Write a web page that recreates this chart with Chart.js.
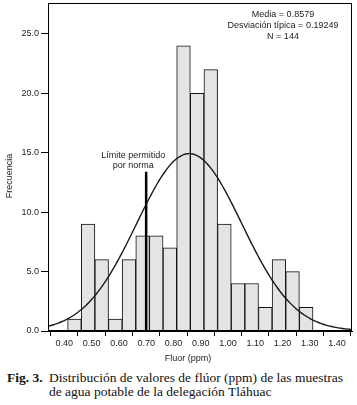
<!DOCTYPE html>
<html>
<head>
<meta charset="utf-8">
<script src="https://cdn.jsdelivr.net/npm/chart.js@4.4.1/dist/chart.umd.min.js"></script>
<style>
  html, body { margin: 0; padding: 0; background: #fff; }
  #wrap { position: relative; width: 357px; height: 405px; }
  #chartBox { position: absolute; left: 0; top: 0; width: 357px; height: 365px; }
  #caption { position: absolute; left: 7px; top: 371px; width: 350px;
    font-family: "Liberation Serif", "Times New Roman", serif; font-size: 13.5px; line-height: 13.5px; color: #111; }
  #caption .fig { position: absolute; left: 0; top: 0; font-weight: bold; }
  #caption .txt { margin-left: 42px; white-space: nowrap; }
</style>
</head>
<body>
<div id="wrap">
  <div id="chartBox"><canvas id="c"></canvas></div>
  <div id="caption"><span class="fig">Fig. 3.</span><div class="txt">Distribución de valores de flúor (ppm) de las muestras<br>de agua potable de la delegación Tláhuac</div></div>
</div>
<script>
// ---- data ----
const BIN_CENTERS = [0.437, 0.487, 0.537, 0.587, 0.637, 0.687, 0.737, 0.787, 0.837,
                     0.887, 0.937, 0.987, 1.037, 1.087, 1.137, 1.187, 1.237, 1.287];
const FREQUENCIES = [1, 9, 6, 1, 6, 8, 8, 7, 24, 20, 22, 9, 4, 4, 2, 6, 5, 2];
const X_TICKS = [0.40, 0.50, 0.60, 0.70, 0.80, 0.90, 1.00, 1.10, 1.20, 1.30, 1.40];
const Y_TICKS = [0, 5, 10, 15, 20, 25];
const MEAN = 0.8579;
const SD = 0.19249;
const N = 144;
const BIN_WIDTH = 0.05;
const LIMIT_VALUE = 0.70;
const LIMIT_TOP = 13.4;
const STATS_LINES = ["Media = 0.8579", "Desviación típica = 0.19249", "N = 144"];
const LIMIT_LABEL = ["Límite permitido", "por norma"];
const X_TITLE = "Fluor (ppm)";
const Y_TITLE = "Frecuencia";
const X_MIN = 0.34, X_MAX = 1.455, Y_MAX = 27.6;

// fitted normal curve (from the stated mean, sd and N)
const CURVE_X = [];
for (let i = 0; i <= 115; i++) CURVE_X.push(+(X_MIN + i * 0.01).toFixed(3));
const curvePts = CURVE_X.map(x => ({
  x, y: N * BIN_WIDTH / (SD * Math.sqrt(2 * Math.PI)) * Math.exp(-0.5 * Math.pow((x - MEAN) / SD, 2))
}));

Chart.defaults.font.family = '"Liberation Sans", Arial, sans-serif';
Chart.defaults.font.size = 9;
Chart.defaults.color = '#222';

const textPlugin = {
  id: 'texts',
  afterDraw(chart) {
    const ctx = chart.ctx, ca = chart.chartArea;
    const xs = chart.scales.x, ys = chart.scales.y;
    ctx.save();
    // frame
    ctx.strokeStyle = '#000'; ctx.lineWidth = 1;
    ctx.strokeRect(Math.round(ca.left) + 0.5, Math.round(ca.top) + 0.5,
                   Math.round(ca.right - ca.left) - 1, Math.round(ca.bottom - ca.top) - 1);
    ctx.fillStyle = '#222';
    ctx.font = '9px "Liberation Sans", Arial, sans-serif';
    ctx.textAlign = 'center'; ctx.textBaseline = 'middle';
    // stats
    STATS_LINES.forEach((t, i) => ctx.fillText(t, ca.right - 69, ca.top + 12 + i * 10.7));
    // limit label
    const lx = xs.getPixelForValue(LIMIT_VALUE) - 13;
    const ly = ys.getPixelForValue(LIMIT_TOP);
    ctx.fillText(LIMIT_LABEL[0], lx, ly - 16.5);
    ctx.fillText(LIMIT_LABEL[1], lx, ly - 6.5);
    // axis titles
    ctx.fillText(X_TITLE, 188, 359);
    ctx.translate(10, 176); ctx.rotate(-Math.PI / 2);
    ctx.fillText(Y_TITLE, 0, 0);
    ctx.restore();
  }
};

new Chart(document.getElementById('c'), {
  type: 'bar',
  data: {
    datasets: [
      { type: 'line', data: curvePts, borderColor: '#1a1a1a', borderWidth: 1.4,
        pointRadius: 0, fill: false, tension: 0.3, order: 0 },
      { type: 'line', data: [{x: LIMIT_VALUE, y: 0}, {x: LIMIT_VALUE, y: LIMIT_TOP}],
        borderColor: '#000', borderWidth: 2.5, pointRadius: 0, fill: false, order: 1 },
      { type: 'bar', data: BIN_CENTERS.map((x, i) => ({x, y: FREQUENCIES[i]})),
        backgroundColor: '#e4e4e4', borderColor: '#111', borderWidth: 1,
        barPercentage: 1, categoryPercentage: 1, order: 2 }
    ]
  },
  options: {
    responsive: true, maintainAspectRatio: false, animation: false,
    layout: { padding: { top: 3, right: 5, left: 0, bottom: 0 } },
    plugins: { legend: { display: false }, tooltip: { enabled: false } },
    scales: {
      x: {
        type: 'linear', min: X_MIN, max: X_MAX, offset: false,
        afterBuildTicks: s => { s.ticks = X_TICKS.map(v => ({ value: v })); },
        afterFit: s => { s.height = 34; s.paddingLeft = 0; s.paddingRight = 0; s.paddingTop = 0; s.paddingBottom = 0; },
        ticks: { callback: v => v.toFixed(2), padding: 2, maxRotation: 0, autoSkip: false, color: '#222' },
        grid: { drawOnChartArea: false, drawTicks: true, tickLength: 5, color: '#000' },
        border: { display: true, color: '#000', width: 1 }
      },
      y: {
        type: 'linear', min: 0, max: Y_MAX,
        afterBuildTicks: s => { s.ticks = Y_TICKS.map(v => ({ value: v })); },
        afterFit: s => { s.width = 48; s.paddingLeft = 0; s.paddingRight = 0; s.paddingTop = 0; s.paddingBottom = 0; },
        ticks: { callback: v => v.toFixed(1), padding: 2, color: '#222' },
        grid: { drawOnChartArea: false, drawTicks: true, tickLength: 7, color: '#000' },
        border: { display: true, color: '#000', width: 1 }
      }
    }
  },
  plugins: [textPlugin]
});
</script>
</body>
</html>
